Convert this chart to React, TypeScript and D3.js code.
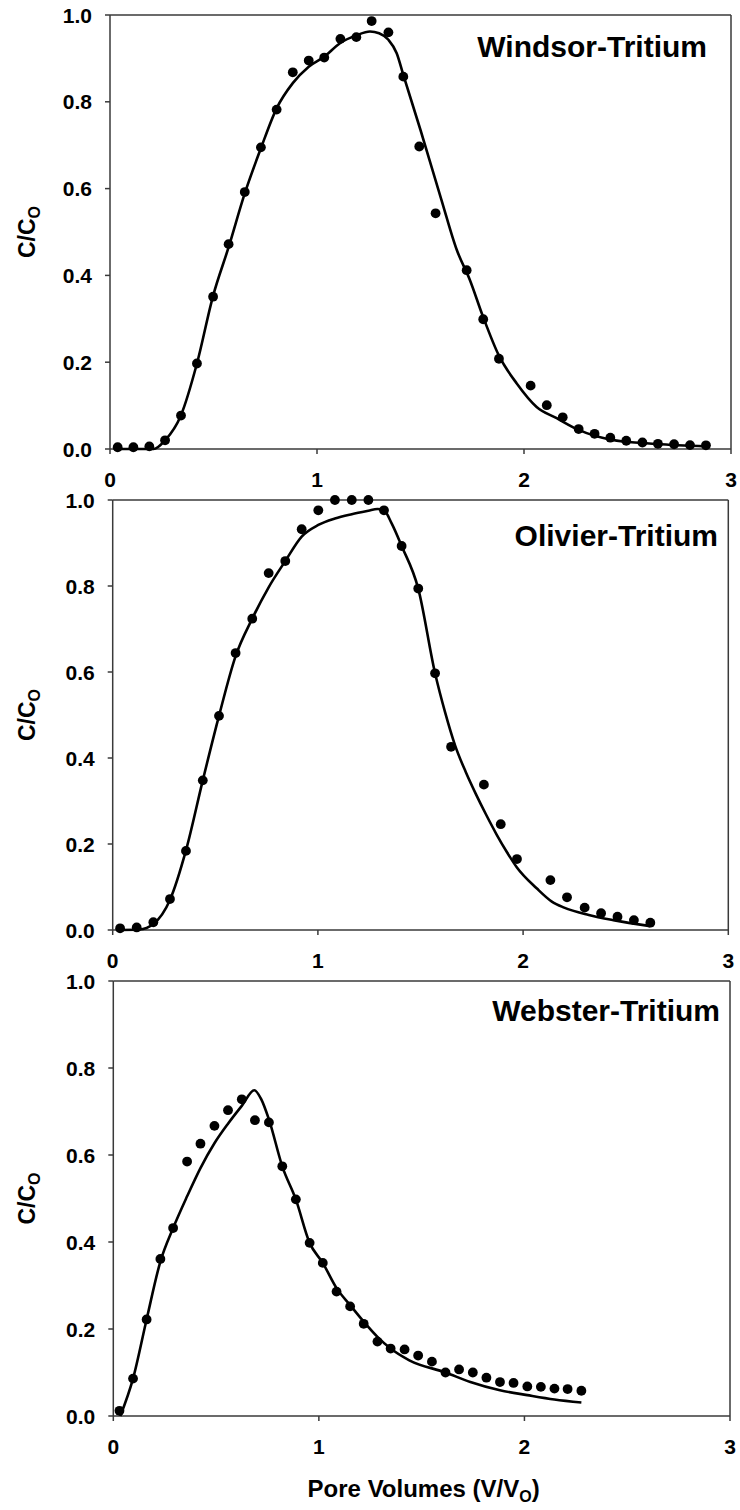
import React from 'react';
import * as d3 from 'd3';

const xTicks = [0, 1, 2, 3];
const yTicks = [0, 0.2, 0.4, 0.6, 0.8, 1.0];
const panelTitles = ['Windsor-Tritium', 'Olivier-Tritium', 'Webster-Tritium'];
const yTitleMain = 'C/C';
const ySub = 'O';
const xTitleMain = 'Pore Volumes (V/V';
const xSub = 'O';

const windsorObs: [number, number][] = [
  [0.037, 0.004], [0.113, 0.004], [0.19, 0.006], [0.266, 0.02], [0.343, 0.077], [0.42, 0.197],
  [0.498, 0.351], [0.573, 0.472], [0.651, 0.592], [0.729, 0.695], [0.805, 0.782], [0.883, 0.868],
  [0.96, 0.895], [1.035, 0.902], [1.113, 0.945], [1.19, 0.949], [1.264, 0.986], [1.345, 0.96],
  [1.417, 0.858], [1.494, 0.697], [1.573, 0.543], [1.723, 0.412], [1.803, 0.299], [1.879, 0.208],
  [2.032, 0.146], [2.11, 0.101], [2.187, 0.073], [2.264, 0.046], [2.341, 0.035], [2.417, 0.026],
  [2.494, 0.019], [2.572, 0.015], [2.647, 0.012], [2.725, 0.011], [2.802, 0.009], [2.879, 0.0085],
];
const windsorFit: [number, number][] = [
  [0.03, 0], [0.21, 0], [0.266, 0.02], [0.343, 0.078], [0.42, 0.197], [0.498, 0.353], [0.573, 0.465],
  [0.651, 0.589], [0.729, 0.693], [0.805, 0.785], [0.883, 0.843], [0.96, 0.881], [1.035, 0.904],
  [1.111, 0.935], [1.19, 0.953], [1.256, 0.962], [1.3, 0.958], [1.345, 0.943], [1.385, 0.912],
  [1.417, 0.862], [1.5, 0.735], [1.6, 0.576], [1.675, 0.459], [1.739, 0.389], [1.802, 0.305],
  [1.879, 0.215], [1.965, 0.151], [2.061, 0.097], [2.158, 0.071], [2.264, 0.044], [2.415, 0.022],
  [2.641, 0.0115], [2.882, 0.006],
];

const olivierObs: [number, number][] = [
  [0.036, 0.004], [0.117, 0.006], [0.198, 0.018], [0.279, 0.072], [0.357, 0.184], [0.439, 0.348],
  [0.518, 0.498], [0.599, 0.644], [0.68, 0.724], [0.76, 0.83], [0.841, 0.858], [0.921, 0.932],
  [1.002, 0.976], [1.083, 1.0], [1.165, 1.0], [1.246, 1.0], [1.322, 0.976], [1.408, 0.893],
  [1.489, 0.794], [1.571, 0.597], [1.649, 0.426], [1.809, 0.338], [1.891, 0.246], [1.97, 0.165],
  [2.133, 0.116], [2.214, 0.076], [2.3, 0.052], [2.38, 0.039], [2.46, 0.031], [2.54, 0.023],
  [2.62, 0.017],
];
const olivierFit: [number, number][] = [
  [0.04, 0], [0.13, 0.001], [0.198, 0.014], [0.279, 0.07], [0.357, 0.185], [0.439, 0.348],
  [0.518, 0.498], [0.599, 0.637], [0.68, 0.724], [0.76, 0.797], [0.841, 0.858], [0.921, 0.915],
  [1.002, 0.942], [1.083, 0.957], [1.165, 0.967], [1.246, 0.975], [1.29, 0.979], [1.322, 0.976],
  [1.36, 0.945], [1.408, 0.893], [1.489, 0.794], [1.571, 0.597], [1.62, 0.506], [1.668, 0.43],
  [1.72, 0.368], [1.77, 0.316], [1.82, 0.268], [1.871, 0.222], [1.92, 0.182], [1.969, 0.146],
  [2.066, 0.097], [2.14, 0.066], [2.2, 0.052], [2.32, 0.035], [2.44, 0.023], [2.62, 0.009],
];

const websterObs: [number, number][] = [
  [0.03, 0.012], [0.096, 0.086], [0.162, 0.222], [0.229, 0.361], [0.291, 0.432], [0.359, 0.585],
  [0.424, 0.626], [0.492, 0.667], [0.558, 0.703], [0.625, 0.728], [0.689, 0.68], [0.757, 0.675],
  [0.822, 0.574], [0.888, 0.498], [0.955, 0.398], [1.019, 0.352], [1.086, 0.286], [1.152, 0.252],
  [1.218, 0.212], [1.285, 0.171], [1.349, 0.155], [1.417, 0.153], [1.483, 0.139], [1.55, 0.125],
  [1.616, 0.1], [1.682, 0.107], [1.749, 0.1], [1.815, 0.088], [1.881, 0.078], [1.947, 0.076],
  [2.014, 0.068], [2.08, 0.067], [2.146, 0.063], [2.21, 0.062], [2.277, 0.058],
];
const websterFit: [number, number][] = [
  [0.034, 0], [0.096, 0.086], [0.162, 0.222], [0.229, 0.355], [0.291, 0.432], [0.359, 0.505],
  [0.424, 0.57], [0.492, 0.627], [0.558, 0.672], [0.625, 0.713], [0.686, 0.749], [0.72, 0.728],
  [0.757, 0.682], [0.822, 0.574], [0.888, 0.498], [0.955, 0.398], [1.019, 0.352], [1.086, 0.294],
  [1.152, 0.255], [1.218, 0.217], [1.285, 0.182], [1.349, 0.155], [1.44, 0.128], [1.616, 0.1],
  [1.737, 0.078], [1.881, 0.059], [2.014, 0.048], [2.146, 0.038], [2.277, 0.031],
];

const FONT = '"Liberation Sans", Arial, Helvetica, sans-serif';

const panels = [
  { title: panelTitles[0], obs: windsorObs, fit: windsorFit, left: 110, right: 731, top: 15, bottom: 449, titleX: 707, titleY: 57 },
  { title: panelTitles[1], obs: olivierObs, fit: olivierFit, left: 112.7, right: 728.3, top: 500, bottom: 930, titleX: 718, titleY: 546 },
  { title: panelTitles[2], obs: websterObs, fit: websterFit, left: 113.3, right: 730, top: 981, bottom: 1416, titleX: 720, titleY: 1021 },
];

function Panel({ p, showXTitle }: { p: typeof panels[number]; showXTitle: boolean }) {
  const x = d3.scaleLinear().domain([0, 3]).range([p.left, p.right]);
  const y = d3.scaleLinear().domain([0, 1]).range([p.bottom, p.top]);
  const line = d3
    .line<[number, number]>()
    .x((d) => x(d[0]))
    .y((d) => y(d[1]))
    .curve(d3.curveMonotoneX);
  const frame = '#3a3a3a';
  return (
    <g>
      <line x1={x(0)} x2={x(3)} y1={y(1)} y2={y(1)} stroke={frame} strokeWidth={1.5} />
      <line x1={x(3)} x2={x(3)} y1={y(1)} y2={y(0)} stroke={frame} strokeWidth={1.5} />
      <line x1={x(0)} x2={x(0)} y1={y(1)} y2={y(0)} stroke={frame} strokeWidth={1.5} />
      <line x1={x(0)} x2={x(3)} y1={y(0)} y2={y(0)} stroke={frame} strokeWidth={1.5} />
      {yTicks.map((t) => (
        <g key={'y' + t}>
          <line x1={x(0) - 5} x2={x(0)} y1={y(t)} y2={y(t)} stroke={frame} strokeWidth={1.5} />
          <text x={x(0) - 18} y={y(t) + 7.5} textAnchor="end" fontFamily={FONT} fontWeight="bold" fontSize={21} fill="#000">
            {t.toFixed(1)}
          </text>
        </g>
      ))}
      {xTicks.map((t) => (
        <g key={'x' + t}>
          <line x1={x(t)} x2={x(t)} y1={y(0)} y2={y(0) + 5} stroke={frame} strokeWidth={1.5} />
          <text x={x(t)} y={y(0) + 38} textAnchor="middle" fontFamily={FONT} fontWeight="bold" fontSize={21} fill="#000">
            {t}
          </text>
        </g>
      ))}
      <text
        transform={`translate(35,${(p.top + p.bottom) / 2}) rotate(-90)`}
        textAnchor="middle"
        fontFamily={FONT}
        fontWeight="bold"
        fontSize={23}
        fill="#000"
      >
        {yTitleMain}
        <tspan dy={5} fontSize={16}>{ySub}</tspan>
      </text>
      <path d={line(p.fit) || ''} fill="none" stroke="#000" strokeWidth={2.6} strokeLinejoin="round" />
      {p.obs.map((d, i) => (
        <circle key={i} cx={x(d[0])} cy={y(d[1])} r={4.9} fill="#000" />
      ))}
      <text x={p.titleX} y={p.titleY} textAnchor="end" fontFamily={FONT} fontWeight="bold" fontSize={30} fill="#000">
        {p.title}
      </text>
      {showXTitle && (
        <text x={(p.left + p.right) / 2 + 2} y={1497} textAnchor="middle" fontFamily={FONT} fontWeight="bold" fontSize={24} fill="#000">
          {xTitleMain}
          <tspan dy={5} fontSize={16}>{xSub}</tspan>
          <tspan dy={-5}>)</tspan>
        </text>
      )}
    </g>
  );
}

export default function App() {
  return (
    <svg
      width={740}
      height={1510}
      viewBox="0 0 740 1510"
      style={{ position: 'absolute', left: 0, top: 0, background: '#fff' }}
    >
      <rect x={0} y={0} width={740} height={1510} fill="#fff" />
      {panels.map((p, i) => (
        <Panel key={i} p={p} showXTitle={i === panels.length - 1} />
      ))}
    </svg>
  );
}
